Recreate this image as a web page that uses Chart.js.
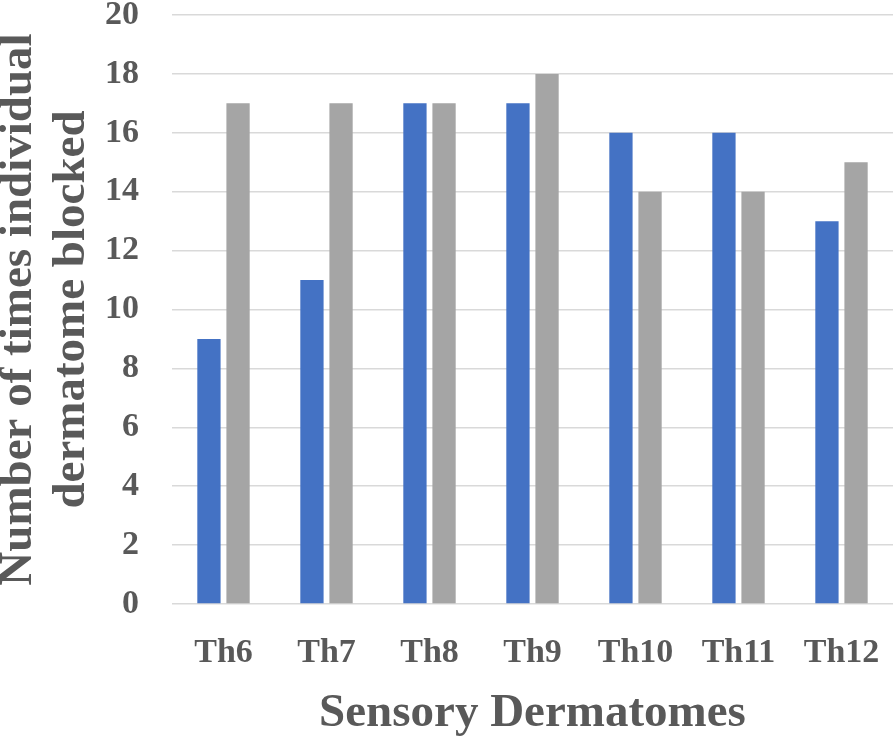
<!DOCTYPE html>
<html>
<head>
<meta charset="utf-8">
<script src="https://cdn.jsdelivr.net/npm/chart.js@4"></script>
<style>
  html, body { margin: 0; padding: 0; background: #fff; }
  canvas { display: block; }
</style>
</head>
<body>
<canvas id="chart" width="893" height="740"></canvas>
<script>
// values
var dermatomes = ['Th6', 'Th7', 'Th8', 'Th9', 'Th10', 'Th11', 'Th12'];
var blueSeries = [9, 11, 17, 17, 16, 16, 13];
var graySeries = [17, 17, 17, 18, 14, 14, 15];
var yTitleLines = ['Number of times individual', 'dermatome blocked'];
var xTitle = 'Sensory Dermatomes';

var textColor = '#595959';
var serif = "'Liberation Serif', 'Times New Roman', serif";

var ctx = document.getElementById('chart').getContext('2d');
new Chart(ctx, {
  type: 'bar',
  data: {
    labels: dermatomes,
    datasets: [{
      data: blueSeries,
      backgroundColor: '#4472C4',
      categoryPercentage: 0.565,
      barPercentage: 0.8
    }, {
      data: graySeries,
      backgroundColor: '#A5A5A5',
      categoryPercentage: 0.565,
      barPercentage: 0.8
    }]
  },
  options: {
    responsive: false,
    animation: false,
    layout: { padding: { top: 15, right: 0, left: 0, bottom: 0 } },
    plugins: {
      legend: { display: false },
      tooltip: { enabled: false }
    },
    scales: {
      x: {
        grid: { display: false },
        border: { display: false },
        ticks: {
          color: textColor,
          padding: 21,
          font: { family: serif, size: 34, weight: 'bold' }
        },
        title: {
          display: true,
          text: xTitle,
          color: textColor,
          padding: { top: 0, bottom: 0 },
          font: { family: serif, size: 47, weight: 'bold', lineHeight: 1.1 }
        },
        afterFit: function (scale) {
          scale.height = 136;
          scale.paddingLeft = 0;
          scale.paddingRight = 0;
        }
      },
      y: {
        min: 0,
        max: 20,
        grid: { color: '#D9D9D9', lineWidth: 1.5, drawTicks: false },
        border: { display: false },
        ticks: {
          stepSize: 2,
          color: textColor,
          padding: 33,
          font: { family: serif, size: 34, weight: 'bold' }
        },
        title: {
          display: true,
          text: yTitleLines,
          color: textColor,
          padding: { top: -7, bottom: 0 },
          font: { family: serif, size: 47, weight: 'bold', lineHeight: 1.12 }
        },
        afterFit: function (scale) {
          scale.width = 172;
          scale.paddingTop = 0;
          scale.paddingBottom = 0;
        }
      }
    }
  }
});
</script>
</body>
</html>
